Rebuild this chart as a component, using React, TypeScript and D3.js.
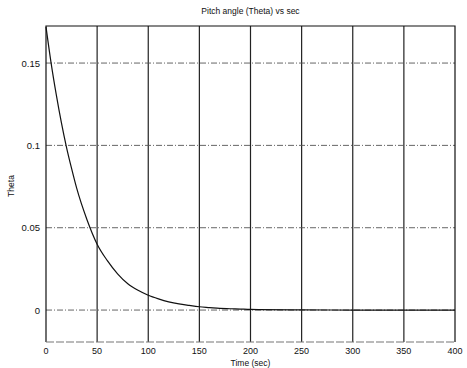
import React, { useEffect, useRef } from 'react';
import * as d3 from 'd3';

// Time (sec) and pitch angle theta
const time = [0, 5, 10, 15, 20, 25, 30, 40, 50, 60, 70, 80, 90, 100, 110, 120, 130, 140, 150, 160, 170, 180, 190, 200, 250, 300, 350, 400];
const theta = [0.172, 0.150, 0.131, 0.114, 0.099, 0.086, 0.074, 0.055, 0.040, 0.030, 0.022, 0.016, 0.012, 0.009, 0.0068, 0.005, 0.0037, 0.0028, 0.002, 0.0015, 0.001, 0.0008, 0.0006, 0.0004, 0.0001, 0, 0, 0];

const xTicks = [0, 50, 100, 150, 200, 250, 300, 350, 400];
const yTicks = [0, 0.05, 0.1, 0.15];
const yTickLabels = ['0', '0.05', '0.1', '0.15'];

export default function App() {
  const svgRef = useRef<SVGSVGElement>(null);

  useEffect(() => {
    if (!svgRef.current) return;
    d3.select(svgRef.current).selectAll('*').remove();

    const W = 467, H = 368;
    const margin = { top: 26, right: 12, bottom: 26, left: 46 };
    const width = W - margin.left - margin.right;
    const height = H - margin.top - margin.bottom;

    const svg = d3.select(svgRef.current)
      .attr('width', W)
      .attr('height', H)
      .style('font-family', 'Liberation Sans, Arial, sans-serif');

    svg.append('rect').attr('width', W).attr('height', H).attr('fill', '#fff');

    const g = svg.append('g').attr('transform', `translate(${margin.left},${margin.top})`);

    const x = d3.scaleLinear().domain([0, 400]).range([0, width]);
    const y = d3.scaleLinear().domain([-0.0194, 0.1725]).range([height, 0]);

    // vertical grid
    g.selectAll('line.vgrid')
      .data(xTicks.slice(1, -1))
      .enter()
      .append('line')
      .attr('class', 'vgrid')
      .attr('x1', d => x(d)).attr('x2', d => x(d))
      .attr('y1', 0).attr('y2', height)
      .attr('stroke', '#222')
      .attr('stroke-width', 1.2);

    // horizontal grid (dash-dot)
    g.selectAll('line.hgrid')
      .data(yTicks)
      .enter()
      .append('line')
      .attr('class', 'hgrid')
      .attr('x1', 0).attr('x2', width)
      .attr('y1', d => y(d)).attr('y2', d => y(d))
      .attr('stroke', '#555')
      .attr('stroke-width', 0.9)
      .attr('stroke-dasharray', '6,2,1,2');

    // box
    g.append('path')
      .attr('d', `M0,${height}V0H${width}V${height}`)
      .attr('fill', 'none')
      .attr('stroke', '#111')
      .attr('stroke-width', 1.2);
    g.append('line')
      .attr('x1', 0).attr('x2', width)
      .attr('y1', height).attr('y2', height)
      .attr('stroke', '#777')
      .attr('stroke-width', 1.2)
      .attr('stroke-dasharray', '8,2');

    // curve
    const line = d3.line<number>()
      .x((_, i) => x(time[i]))
      .y(d => y(d))
      .curve(d3.curveMonotoneX);
    g.append('path')
      .datum(theta)
      .attr('d', line)
      .attr('fill', 'none')
      .attr('stroke', '#111')
      .attr('stroke-width', 1.2);

    // x tick labels
    g.selectAll('text.xt')
      .data(xTicks)
      .enter()
      .append('text')
      .attr('class', 'xt')
      .attr('x', d => x(d))
      .attr('y', height + 12)
      .attr('text-anchor', 'middle')
      .attr('font-size', 9)
      .attr('fill', '#111')
      .text(d => String(d));

    // y tick labels
    g.selectAll('text.yt')
      .data(yTicks)
      .enter()
      .append('text')
      .attr('class', 'yt')
      .attr('x', -6)
      .attr('y', d => y(d) + 3.5)
      .attr('text-anchor', 'end')
      .attr('font-size', 9.5)
      .attr('fill', '#111')
      .text((_, i) => yTickLabels[i]);

    // title and axis labels
    svg.append('text')
      .attr('x', margin.left + width / 2)
      .attr('y', 14)
      .attr('text-anchor', 'middle')
      .attr('font-size', 8.5)
      .attr('fill', '#111')
      .text('Pitch angle (Theta) vs sec');

    svg.append('text')
      .attr('x', margin.left + width / 2)
      .attr('y', 366)
      .attr('text-anchor', 'middle')
      .attr('font-size', 8.5)
      .attr('fill', '#111')
      .text('Time (sec)');

    svg.append('text')
      .attr('transform', `translate(14,${margin.top + height / 2 + 2}) rotate(-90)`)
      .attr('text-anchor', 'middle')
      .attr('font-size', 8.5)
      .attr('fill', '#111')
      .text('Theta');
  }, []);

  return (
    <div style={{ position: 'absolute', left: 0, top: 0 }}>
      <svg ref={svgRef} style={{ display: 'block' }}></svg>
    </div>
  );
}
